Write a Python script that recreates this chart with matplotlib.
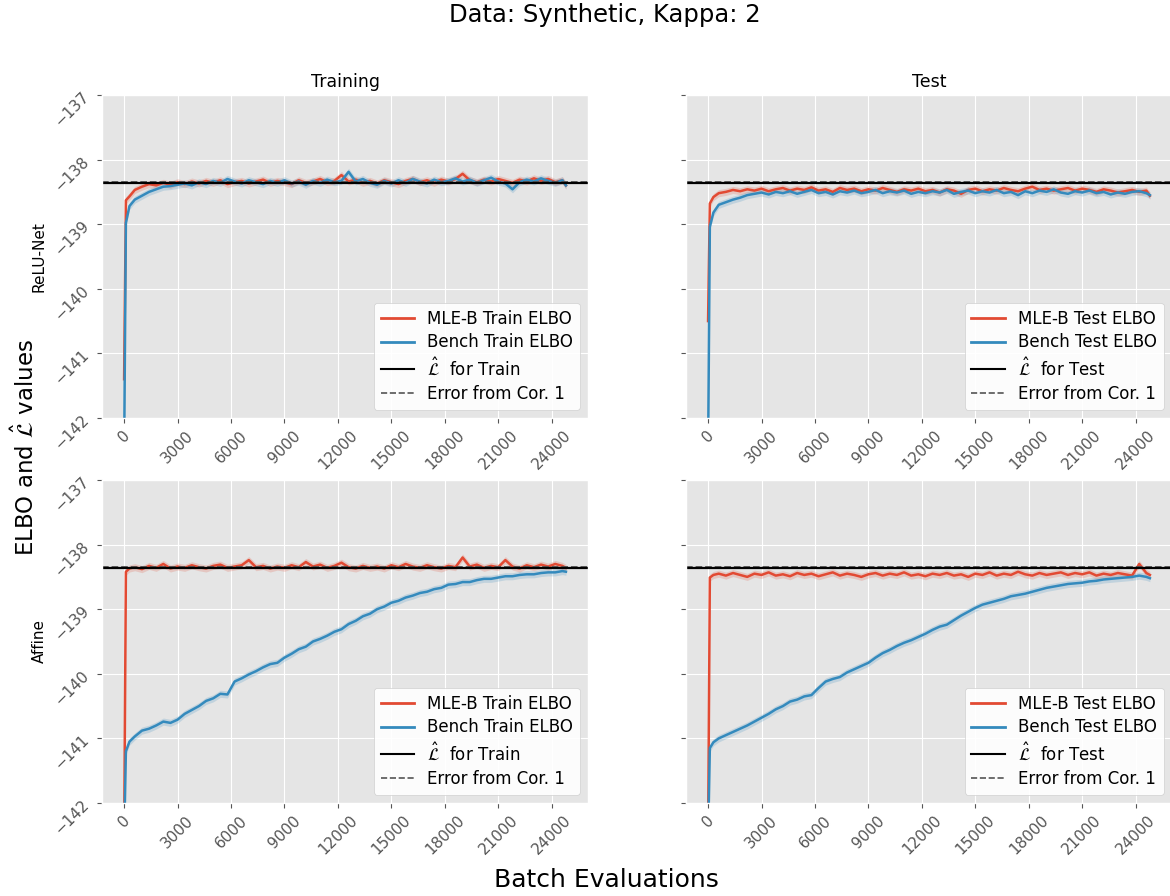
import numpy as np
import matplotlib
matplotlib.use("Agg")
import matplotlib.pyplot as plt
from matplotlib.lines import Line2D

# batch evaluations at which the ELBO was recorded
steps = [0, 100, 300, 600, 1000, 1400, 1800, 2200, 2600, 3000, 3400, 3800, 4200, 4600,
         5000, 5400, 5800, 6200, 6600, 7000, 7400, 7800, 8200, 8600, 9000, 9400, 9800,
         10200, 10600, 11000, 11400, 11800, 12200, 12600, 13000, 13400, 13800, 14200,
         14600, 15000, 15400, 15800, 16200, 16600, 17000, 17400, 17800, 18200, 18600,
         19000, 19400, 19800, 20200, 20600, 21000, 21400, 21800, 22200, 22600, 23000,
         23400, 23800, 24200, 24600, 24800]

# ReLU-Net
relu_mle_train = [-141.40, -138.63, -138.57, -138.47, -138.42, -138.38, -138.40, -138.36, -138.39, -138.35,
                  -138.38, -138.34, -138.37, -138.33, -138.36, -138.32, -138.38, -138.35, -138.33, -138.37,
                  -138.34, -138.31, -138.36, -138.33, -138.35, -138.38, -138.32, -138.36, -138.34, -138.30,
                  -138.35, -138.33, -138.24, -138.34, -138.31, -138.36, -138.33, -138.37, -138.32, -138.35,
                  -138.38, -138.33, -138.30, -138.35, -138.32, -138.36, -138.31, -138.34, -138.30, -138.22,
                  -138.32, -138.35, -138.31, -138.34, -138.30, -138.33, -138.36, -138.31, -138.34, -138.29,
                  -138.33, -138.30, -138.35, -138.32, -138.40]
relu_bench_train = [-142.60, -138.98, -138.72, -138.62, -138.56, -138.50, -138.46, -138.42, -138.41, -138.39,
                    -138.37, -138.40, -138.35, -138.38, -138.33, -138.36, -138.30, -138.34, -138.37, -138.32,
                    -138.35, -138.38, -138.33, -138.36, -138.32, -138.37, -138.34, -138.39, -138.33, -138.36,
                    -138.31, -138.35, -138.33, -138.19, -138.34, -138.30, -138.36, -138.39, -138.33, -138.37,
                    -138.32, -138.36, -138.30, -138.34, -138.37, -138.31, -138.35, -138.33, -138.29, -138.34,
                    -138.31, -138.36, -138.32, -138.28, -138.34, -138.37, -138.46, -138.35, -138.31, -138.34,
                    -138.29, -138.33, -138.36, -138.32, -138.40]
relu_mle_test = [-140.50, -138.68, -138.58, -138.52, -138.50, -138.47, -138.49, -138.46, -138.48, -138.45,
                 -138.49, -138.46, -138.44, -138.48, -138.45, -138.47, -138.43, -138.48, -138.46, -138.50,
                 -138.44, -138.47, -138.45, -138.49, -138.46, -138.48, -138.44, -138.47, -138.50, -138.46,
                 -138.48, -138.45, -138.49, -138.47, -138.51, -138.46, -138.48, -138.53, -138.47, -138.45,
                 -138.49, -138.46, -138.48, -138.44, -138.47, -138.49, -138.45, -138.42, -138.47, -138.45,
                 -138.48, -138.46, -138.44, -138.48, -138.45, -138.47, -138.50, -138.46, -138.48, -138.51,
                 -138.49, -138.47, -138.50, -138.48, -138.56]
relu_bench_test = [-142.60, -139.04, -138.82, -138.70, -138.66, -138.62, -138.59, -138.55, -138.53, -138.51,
                   -138.54, -138.50, -138.52, -138.49, -138.53, -138.50, -138.47, -138.52, -138.50, -138.54,
                   -138.49, -138.51, -138.48, -138.52, -138.50, -138.47, -138.52, -138.49, -138.51, -138.48,
                   -138.53, -138.50, -138.52, -138.49, -138.51, -138.47, -138.53, -138.50, -138.48, -138.52,
                   -138.49, -138.51, -138.47, -138.52, -138.50, -138.55, -138.49, -138.52, -138.48, -138.50,
                   -138.46, -138.51, -138.53, -138.49, -138.51, -138.48, -138.52, -138.50, -138.54, -138.51,
                   -138.53, -138.50, -138.49, -138.52, -138.55]

# Affine
aff_mle_train = [-142.60, -138.42, -138.37, -138.35, -138.38, -138.33, -138.36, -138.30, -138.37, -138.34,
                 -138.36, -138.32, -138.35, -138.37, -138.33, -138.31, -138.36, -138.34, -138.32, -138.24,
                 -138.35, -138.33, -138.37, -138.34, -138.36, -138.32, -138.35, -138.27, -138.34, -138.31,
                 -138.36, -138.33, -138.28, -138.35, -138.37, -138.33, -138.36, -138.34, -138.37, -138.32,
                 -138.35, -138.30, -138.34, -138.36, -138.32, -138.35, -138.37, -138.33, -138.35, -138.20,
                 -138.34, -138.31, -138.36, -138.33, -138.35, -138.24, -138.34, -138.37, -138.32, -138.35,
                 -138.31, -138.34, -138.30, -138.33, -138.36]
aff_bench_train = [-142.60, -141.20, -141.05, -140.97, -140.88, -140.85, -140.80, -140.74, -140.76, -140.71,
                   -140.62, -140.56, -140.50, -140.42, -140.38, -140.31, -140.32, -140.12, -140.07, -140.01,
                   -139.96, -139.90, -139.85, -139.83, -139.75, -139.69, -139.62, -139.58, -139.50, -139.46,
                   -139.41, -139.35, -139.31, -139.23, -139.18, -139.11, -139.07, -139.00, -138.96, -138.90,
                   -138.87, -138.82, -138.79, -138.75, -138.73, -138.69, -138.67, -138.62, -138.61, -138.58,
                   -138.58, -138.55, -138.53, -138.53, -138.51, -138.49, -138.49, -138.47, -138.46, -138.46,
                   -138.44, -138.43, -138.43, -138.41, -138.42]
aff_mle_test = [-142.60, -138.51, -138.47, -138.45, -138.48, -138.44, -138.47, -138.50, -138.45, -138.47,
                -138.43, -138.48, -138.46, -138.49, -138.44, -138.47, -138.45, -138.49, -138.46, -138.43,
                -138.48, -138.45, -138.47, -138.50, -138.46, -138.44, -138.48, -138.45, -138.47, -138.43,
                -138.48, -138.46, -138.49, -138.45, -138.47, -138.44, -138.48, -138.46, -138.50, -138.45,
                -138.47, -138.43, -138.48, -138.45, -138.47, -138.42, -138.46, -138.48, -138.44, -138.47,
                -138.45, -138.43, -138.47, -138.44, -138.46, -138.43, -138.48, -138.45, -138.47, -138.44,
                -138.46, -138.48, -138.30, -138.44, -138.47]
aff_bench_test = [-142.60, -141.15, -141.06, -141.00, -140.95, -140.90, -140.85, -140.80, -140.74, -140.68,
                  -140.62, -140.55, -140.50, -140.43, -140.40, -140.35, -140.33, -140.22, -140.12, -140.08,
                  -140.05, -139.98, -139.93, -139.88, -139.83, -139.75, -139.68, -139.63, -139.57, -139.52,
                  -139.48, -139.43, -139.38, -139.32, -139.27, -139.24, -139.17, -139.10, -139.04, -138.98,
                  -138.93, -138.90, -138.87, -138.84, -138.80, -138.78, -138.76, -138.73, -138.70, -138.67,
                  -138.65, -138.63, -138.61, -138.60, -138.59, -138.57, -138.56, -138.54, -138.53, -138.52,
                  -138.51, -138.50, -138.48, -138.50, -138.52]

# L-hat and error bound from Cor. 1
l_hat = -138.37
l_err = 0.03
band = 0.055

row_names = ["ReLU-Net", "Affine"]
col_names = ["Training", "Test"]
split_names = ["Train", "Test"]
series = [[(relu_mle_train, relu_bench_train), (relu_mle_test, relu_bench_test)],
          [(aff_mle_train, aff_bench_train), (aff_mle_test, aff_bench_test)]]

plt.style.use("ggplot")
red = "#E24A33"
blue = "#348ABD"

fig = plt.figure(figsize=(11.7, 8.96), dpi=100)
lefts = [0.0872, 0.5863]
bottoms = [0.5335, 0.1038]
w, h = 0.4154, 0.3605

x = np.array(steps)
for r in range(2):
    for c in range(2):
        ax = fig.add_axes([lefts[c], bottoms[r], w, h])
        mle, bench = series[r][c]
        mle = np.array(mle)
        bench = np.array(bench)
        ax.fill_between(x, mle - band, mle + band, color=red, alpha=0.2, lw=0)
        ax.fill_between(x, bench - band, bench + band, color=blue, alpha=0.2, lw=0)
        ax.plot(x, mle, color=red, lw=1.8)
        ax.plot(x, bench, color=blue, lw=1.8)
        ax.axhline(l_hat + l_err, color="#555555", lw=1.3, ls="--")
        ax.axhline(l_hat, color="black", lw=1.6)
        ax.set_ylim(-142, -137)
        ax.set_xticks(np.arange(0, 24001, 3000))
        ax.tick_params(axis="x", labelrotation=45, labelsize=11)
        ax.tick_params(axis="y", labelrotation=45, labelsize=11)
        if c == 1:
            ax.set_yticklabels([])
        else:
            ax.set_ylabel(row_names[r], fontsize=11, color="black")
        if r == 0:
            ax.set_title(col_names[c], fontsize=12.5)
        s = split_names[c]
        handles = [Line2D([], [], color=red, lw=2),
                   Line2D([], [], color=blue, lw=2),
                   Line2D([], [], color="black", lw=1.5),
                   Line2D([], [], color="#555555", lw=1.2, ls="--")]
        labels = ["MLE-B %s ELBO" % s, "Bench %s ELBO" % s,
                  r"$\hat{\mathcal{L}}$  for %s" % s, "Error from Cor. 1"]
        ax.legend(handles, labels, loc="lower right", fontsize=12,
                  facecolor="white", framealpha=0.9, edgecolor="#cccccc",
                  labelspacing=0.35)

fig.suptitle("Data: Synthetic, Kappa: 2", fontsize=17.5, x=0.517, y=0.997)
fig.text(0.022, 0.5, r"ELBO and $\hat{\mathcal{L}}$ values", rotation=90,
         fontsize=16.5, va="center", ha="center")
fig.text(0.518, 0.018, "Batch Evaluations", fontsize=18, ha="center", va="center")

fig.savefig("out.png", dpi=100)
